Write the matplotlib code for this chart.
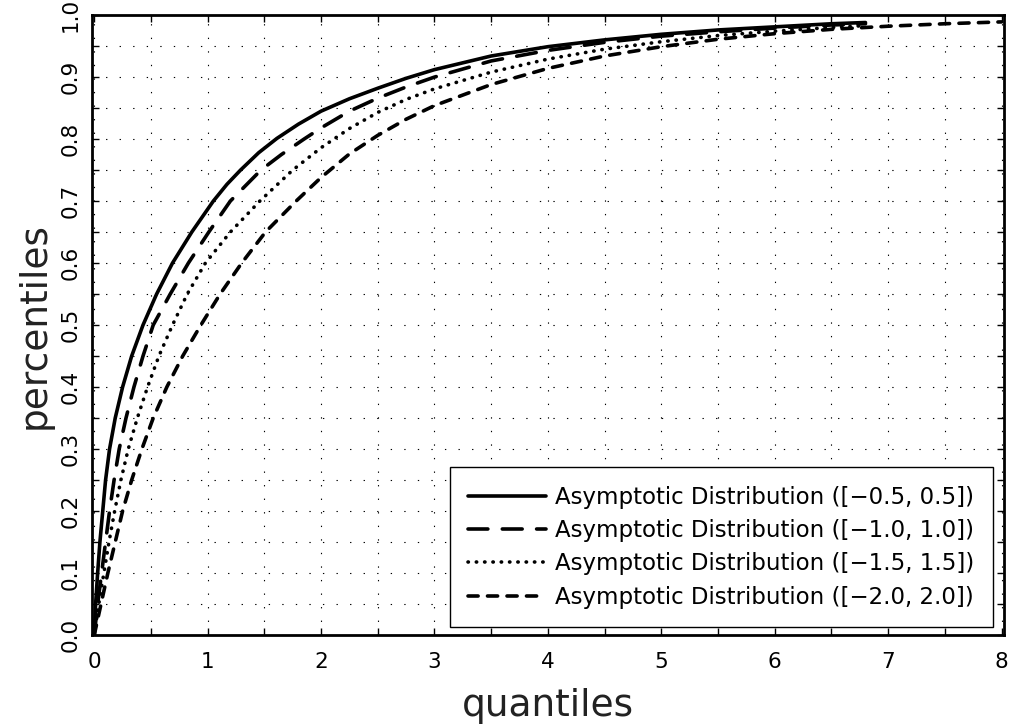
#!/usr/bin/env python3
"""Asymptotic distribution percentiles vs quantiles."""
import matplotlib
matplotlib.use('Agg')
import matplotlib.pyplot as plt
from matplotlib.ticker import MultipleLocator

x_05 = [0, 0.012, 0.03, 0.05, 0.075, 0.10, 0.135, 0.185, 0.25, 0.33, 0.43,
        0.55, 0.69, 0.86, 1.05, 1.17, 1.29, 1.45, 1.61, 1.80, 2.0, 2.25, 2.5,
        2.75, 3.0, 3.5, 4.0, 4.5, 5.0, 5.5, 6.0, 6.5, 6.8]
y_05 = [0, 0.05, 0.10, 0.15, 0.20, 0.25, 0.30, 0.35, 0.40, 0.45, 0.50,
        0.55, 0.60, 0.65, 0.70, 0.727, 0.75, 0.778, 0.801, 0.824, 0.845, 0.865,
        0.882, 0.898, 0.912, 0.934, 0.949, 0.960, 0.969, 0.976, 0.981, 0.986,
        0.988]

x_10 = [0, 0.03, 0.065, 0.10, 0.135, 0.175, 0.22, 0.28, 0.35, 0.43, 0.52,
        0.67, 0.83, 1.01, 1.2, 1.47, 1.65, 1.85, 2.0, 2.25, 2.5, 2.75, 3.0,
        3.5, 4.0, 4.5, 5.0, 5.5, 6.0, 6.5, 6.8]
y_10 = [0, 0.05, 0.10, 0.15, 0.20, 0.25, 0.30, 0.35, 0.40, 0.45, 0.50,
        0.55, 0.60, 0.65, 0.70, 0.75, 0.775, 0.80, 0.818, 0.845, 0.866, 0.884,
        0.900, 0.926, 0.943, 0.956, 0.966, 0.973, 0.979, 0.984, 0.986]

x_15 = [0, 0.04, 0.085, 0.13, 0.18, 0.235, 0.30, 0.38, 0.47, 0.57, 0.69,
        0.82, 0.98, 1.2, 1.46, 1.75, 2.0, 2.25, 2.5, 2.75, 3.0, 3.5, 4.0,
        4.5, 5.0, 5.5, 6.0, 6.5, 6.8]
y_15 = [0, 0.05, 0.10, 0.15, 0.20, 0.25, 0.30, 0.35, 0.40, 0.45, 0.50,
        0.55, 0.60, 0.65, 0.70, 0.75, 0.786, 0.817, 0.843, 0.864, 0.881,
        0.908, 0.929, 0.945, 0.957, 0.967, 0.974, 0.980, 0.983]

x_20 = [0, 0.06, 0.12, 0.185, 0.25, 0.33, 0.42, 0.52, 0.64, 0.78, 0.94,
        1.11, 1.30, 1.51, 1.78, 2.0, 2.25, 2.5, 2.75, 3.0, 3.5, 4.0, 4.5,
        5.0, 5.5, 6.0, 6.5, 7.0, 7.5, 8.0]
y_20 = [0, 0.05, 0.10, 0.15, 0.20, 0.25, 0.30, 0.35, 0.40, 0.45, 0.50,
        0.55, 0.60, 0.65, 0.70, 0.738, 0.776, 0.806, 0.832, 0.854, 0.888,
        0.914, 0.934, 0.949, 0.961, 0.970, 0.977, 0.982, 0.986, 0.989]

labels = ['Asymptotic Distribution ([\u22120.5, 0.5])',
          'Asymptotic Distribution ([\u22121.0, 1.0])',
          'Asymptotic Distribution ([\u22121.5, 1.5])',
          'Asymptotic Distribution ([\u22122.0, 2.0])']

fig = plt.figure(figsize=(10.14, 7.28), dpi=100)
ax = fig.add_axes([0.0907, 0.1277, 0.8993, 0.8516])

LW = 2.6
ax.plot(x_05, y_05, color='black', lw=LW, ls='-', label=labels[0],
        solid_capstyle='round', solid_joinstyle='round')
ax.plot(x_10, y_10, color='black', lw=LW, ls=(0, (5.5, 4)), label=labels[1],
        dash_capstyle='round', dash_joinstyle='round')
ax.plot(x_15, y_15, color='black', lw=LW, ls=(0, (0.1, 2.2)), label=labels[2],
        dash_capstyle='round', dash_joinstyle='round')
ax.plot(x_20, y_20, color='black', lw=LW, ls=(0, (2.8, 2.6)), label=labels[3],
        dash_capstyle='round', dash_joinstyle='round')

ax.set_xlim(-0.02, 8.02)
ax.set_ylim(0, 1.0)
ax.xaxis.set_major_locator(MultipleLocator(1))
ax.xaxis.set_minor_locator(MultipleLocator(0.5))
ax.yaxis.set_major_locator(MultipleLocator(0.1))
ax.yaxis.set_minor_locator(MultipleLocator(0.05))
ax.yaxis.set_major_formatter(plt.FuncFormatter(lambda v, p: f'{v:.1f}'))

ax.grid(True, which='both', color='black', lw=0.8, ls=(0, (1.2, 11)))
ax.tick_params(which='both', direction='in', top=True, right=True,
               length=5, width=1, labelsize=15.5)
ax.tick_params(axis='x', pad=12)
ax.tick_params(axis='y', pad=8)
for lab in ax.get_yticklabels():
    lab.set_rotation(90)
    lab.set_va('center')
for s in ax.spines.values():
    s.set_linewidth(2)

ax.set_xlabel('quantiles', fontsize=27, color='#222222', labelpad=12)
ax.set_ylabel('percentiles', fontsize=27, color='#222222', labelpad=6)

leg = ax.legend(loc='lower right', fontsize=16.5, handlelength=3.4,
                handletextpad=0.4, fancybox=False, edgecolor='black',
                framealpha=1, borderpad=0.8, labelspacing=0.45,
                borderaxespad=0, bbox_to_anchor=(0.988, 0.013))
leg.get_frame().set_linewidth(1)

fig.savefig('out.png', dpi=100, facecolor='white')
